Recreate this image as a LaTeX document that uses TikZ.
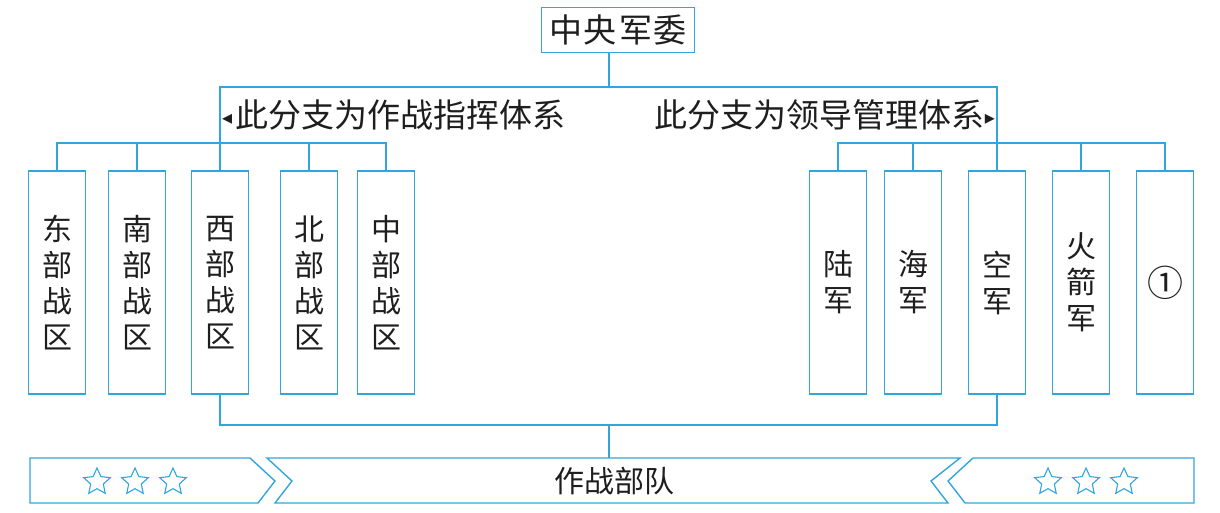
\documentclass[tikz,border=0pt]{standalone}
\usepackage{fontspec}
\setmainfont{Noto Sans CJK SC}
\newfontfamily\symfont{DejaVu Sans}
\usetikzlibrary{shapes.geometric,calc}
\definecolor{lineblue}{RGB}{50,165,220}
\definecolor{inktext}{RGB}{30,30,30}
\newcommand{\pointer}[1]{\raisebox{3pt}{\symfont\fontsize{20}{20}\selectfont #1}}

\begin{document}
\begin{tikzpicture}[x=1pt,y=-1pt]
\tikzstyle{link}=[draw=lineblue,line width=1.4pt]
\tikzstyle{cmcbox}=[rectangle,draw=lineblue,line width=1.4pt,minimum width=153pt,minimum height=45pt,inner sep=0pt,text=inktext,font=\fontsize{33}{36}\selectfont]
\tikzstyle{branch}=[rectangle,draw=lineblue,line width=1.4pt,minimum width=57pt,minimum height=223pt,inner sep=0pt,align=center,text=inktext,font=\fontsize{30}{36}\selectfont]
\tikzstyle{label}=[inner sep=0pt,text=inktext,font=\fontsize{33}{36}\selectfont]
\tikzstyle{starmark}=[star,star points=5,star point ratio=2.1,draw=lineblue,line width=1.1pt,minimum size=28pt,inner sep=0pt]

\useasboundingbox (0,0) rectangle (1220,512);

\node[cmcbox] (cmc) at (618,30) {中\kern2pt 央\kern2pt 军\kern2pt 委};
\coordinate (hub) at (609,87);
\coordinate (lbar) at (0,143);
\coordinate (bbar) at (0,425);
\coordinate (bannertop) at (609,458);

% command branch
\node[label,anchor=west] (command) at (222,115) {\pointer{◂}\kern3pt 此分支为作战指挥体系};
\node[branch] (east) at (57,282.5) {东\\部\\战\\区};
\node[branch] (south) at (137,282.5) {南\\部\\战\\区};
\node[branch] (west) at (220,282.5) {西\\部\\战\\区};
\node[branch] (north) at (309,282.5) {北\\部\\战\\区};
\node[branch] (central) at (386,282.5) {中\\部\\战\\区};

% management branch
\node[label,anchor=east] (manage) at (995,115) {此分支为领导管理体系\pointer{▸}};
\node[branch] (army) at (838,282.5) {陆\\军};
\node[branch] (navy) at (913,282.5) {海\\军};
\node[branch] (airforce) at (997,282.5) {空\\军};
\node[branch] (rocket) at (1081,282.5) {火\\箭\\军};
\node[branch,font=\fontsize{36}{36}\selectfont] (blank) at (1165,282.5) {①};

\draw[link] (hub |- cmc.south) -- (hub);
\draw[link] (west.north) -- (west.north |- hub) -- (airforce.north |- hub) -- (airforce.north);
\draw[link] (east.north) -- (east.north |- lbar) -- (central.north |- lbar) -- (central.north);
\foreach \n in {south,north}
  \draw[link] (\n.north) -- (\n.north |- lbar);
\draw[link] (army.north) -- (army.north |- lbar) -- (blank.north |- lbar) -- (blank.north);
\foreach \n in {navy,rocket}
  \draw[link] (\n.north) -- (\n.north |- lbar);
\draw[link] (west.south) -- (west.south |- bbar) -- (airforce.south |- bbar) -- (airforce.south);
\draw[link] (hub |- bbar) -- (bannertop);

% banner
\draw[link] (30,458) -- (250,458) -- (275,481) -- (258,503) -- (30,503) -- cycle;
\draw[link] (267,458) -- (960,458) -- (931,481) -- (948,503) -- (275,503) -- (292,481) -- cycle;
\draw[link] (973,458) -- (1194,458) -- (1194,503) -- (965,503) -- (948,481) -- cycle;
\node[label,font=\fontsize{30}{36}\selectfont] (troops) at (614,481) {作战部队};
\foreach \x in {97,135,173}
  \node[starmark] (lstar\x) at (\x,482) {};
\foreach \x in {1048,1086,1124}
  \node[starmark] (rstar\x) at (\x,482) {};

\end{tikzpicture}
\end{document}
